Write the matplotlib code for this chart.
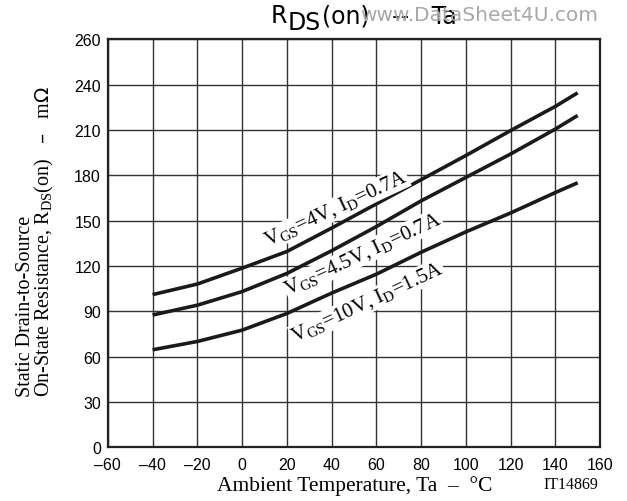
import matplotlib.pyplot as plt
import numpy as np

# (mOhm vs deg C)
temp = [-40, -20, 0, 20, 40, 60, 80, 100, 120, 140, 150]
r_vgs4 = [101, 108, 118.5, 129.5, 145, 161, 177, 193, 209.5, 225.5, 234.5]
r_vgs45 = [87.5, 94, 103, 115, 130, 146, 163, 178.5, 194, 210.5, 219.5]
r_vgs10 = [64.5, 70, 77.5, 88.5, 102, 114.5, 129, 142.5, 155, 168.5, 175]

x_ticks = [-60, -40, -20, 0, 20, 40, 60, 80, 100, 120, 140, 160]
x_labels = ['–60', '–40', '–20', '0', '20', '40', '60', '80', '100', '120', '140', '160']
# the sheet labels its top gridline 260 although spacing is 30
y_ticks = [0, 30, 60, 90, 120, 150, 180, 210, 240, 270]
y_labels = ['0', '30', '60', '90', '120', '150', '180', '210', '240', '260']

curve_labels = [
    (r'V$_{\mathregular{GS}}$=4V, I$_{\mathregular{D}}$=0.7A', 42, 158),
    (r'V$_{\mathregular{GS}}$=4.5V, I$_{\mathregular{D}}$=0.7A', 54, 128),
    (r'V$_{\mathregular{GS}}$=10V, I$_{\mathregular{D}}$=1.5A', 56, 96),
]

serif = ['Liberation Serif', 'DejaVu Serif']
sans = ['Liberation Sans Narrow', 'Liberation Sans', 'DejaVu Sans']

fig = plt.figure(figsize=(6.27, 5.02), dpi=100)
ax = fig.add_axes([0.172, 0.107, 0.785, 0.813])

for r in (r_vgs4, r_vgs45, r_vgs10):
    ax.plot(temp, r, color='#1a1a1a', lw=2.6, solid_capstyle='butt')

ax.set_xlim(-60, 160)
ax.set_ylim(0, 270)
ax.set_xticks(x_ticks)
ax.set_xticklabels(x_labels, family=sans, fontsize=11.5)
ax.set_yticks(y_ticks)
ax.set_yticklabels(y_labels, family=sans, fontsize=11.5)
ax.tick_params(length=0, pad=5)
ax.tick_params(axis='x', pad=7)
ax.grid(True, color='#333333', lw=1.0)
for s in ax.spines.values():
    s.set_linewidth(1.6)
    s.set_color('#222222')

for txt, x, y in curve_labels:
    ax.text(x, y, txt, rotation=25, ha='center', va='center', family=serif,
            fontsize=15, rotation_mode='anchor',
            bbox=dict(facecolor='white', edgecolor='none', pad=0.5))

# title: R, DS, (on) -- Ta with a full-size lowered subscript
t1 = fig.text(0.432, 0.944, 'R', family='DejaVu Sans', fontsize=17, va='bottom')
t2 = ax.annotate('DS', xy=(1, 0), xycoords=t1, xytext=(0.5, -5),
                 textcoords='offset points', family='DejaVu Sans', fontsize=17,
                 va='bottom', annotation_clip=False)
ax.annotate('(on)   --   Ta', xy=(1, 0), xycoords=t2, xytext=(0.5, 5),
            textcoords='offset points', family='DejaVu Sans', fontsize=17,
            va='bottom', annotation_clip=False)
fig.text(0.574, 0.970, 'www.DataSheet4U.com', family='DejaVu Sans',
         fontsize=14.5, color='#a8a8a8', ha='left', va='center')

fig.text(0.040, 0.209, 'Static Drain-to-Source', rotation=90, family=serif,
         fontsize=14.5, ha='center', va='bottom')
fig.text(0.071, 0.209, r'On-State Resistance, R$_{\mathregular{DS}}$(on)   –   m$\Omega$',
         rotation=90, family=serif, fontsize=14.5, ha='center', va='bottom')

fig.text(0.565, 0.032, 'Ambient Temperature, Ta  –  °C', family=serif,
         fontsize=15.5, ha='center', va='center')
fig.text(0.910, 0.034, 'IT14869', family=serif, fontsize=11.5,
         ha='center', va='center')

fig.savefig('out.png', dpi=100)
